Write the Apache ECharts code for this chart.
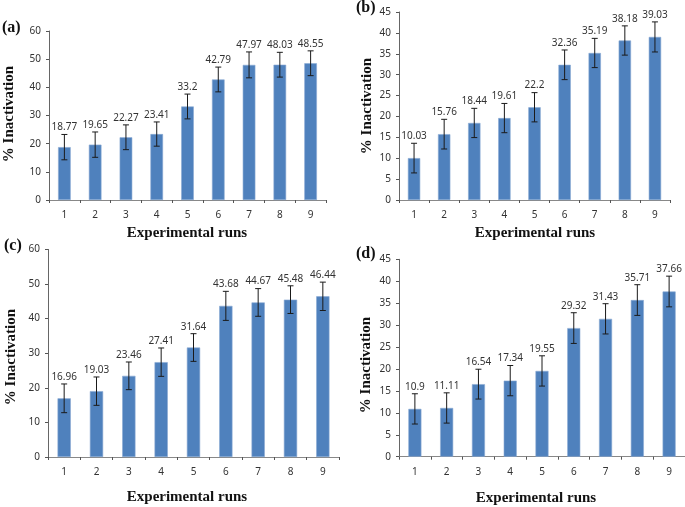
<!DOCTYPE html>
<html>
<head>
<meta charset="utf-8">
<script src="https://cdn.jsdelivr.net/npm/echarts@6/dist/echarts.min.js"></script>
<style>html,body{margin:0;padding:0;background:#fff}#c{width:685px;height:507px}</style>
</head>
<body>
<div id="c"></div>
<script>
const categories = ['1','2','3','4','5','6','7','8','9'];
const valuesA = [18.77,19.65,22.27,23.41,33.2,42.79,47.97,48.03,48.55];
const errA = [4.5,4.5,4.4,4.3,4.4,4.4,4.6,4.4,4.4];
const valuesB = [10.03,15.76,18.44,19.61,22.2,32.36,35.19,38.18,39.03];
const errB = [3.55,3.55,3.5,3.5,3.5,3.55,3.5,3.5,3.6];
const valuesC = [16.96,19.03,23.46,27.41,31.64,43.68,44.67,45.48,46.44];
const errC = [4.15,4.1,4.0,4.1,4.0,4.2,4.0,4.0,4.1];
const valuesD = [10.9,11.11,16.54,17.34,19.55,29.32,31.43,35.71,37.66];
const errD = [3.45,3.45,3.4,3.45,3.45,3.5,3.45,3.5,3.5];
const yTicksAC = {min:0, max:60, interval:10};
const yTicksBD = {min:0, max:45, interval:5};
const panelLabels = ['(a)','(b)','(c)','(d)'];
const xTitle = 'Experimental runs';
const yTitle = '% Inactivation';

const sans = 'Noto Sans, Liberation Sans, sans-serif';
const serif = 'Liberation Serif, DejaVu Serif, serif';
const barColor = '#4F81BD';

const grids = [
  {left:49, top:31, width:277, height:169},
  {left:399, top:12, width:271, height:188},
  {left:48, top:249.4, width:291, height:207.6},
  {left:399, top:259.3, width:286, height:197.4}
];
const panels = [
  {v:valuesA, e:errA, y:yTicksAC},
  {v:valuesB, e:errB, y:yTicksBD},
  {v:valuesC, e:errC, y:yTicksAC},
  {v:valuesD, e:errD, y:yTicksBD}
];

const xAxes = [], yAxes = [], series = [];
panels.forEach((p, i) => {
  xAxes.push({
    type:'category', gridIndex:i, data:categories,
    axisLine:{lineStyle:{color:'#888', width:1}},
    axisTick:{show:true, length:3, lineStyle:{color:'#555'}},
    axisLabel:{color:'#333', fontSize:10, fontFamily:sans, margin:10}
  });
  yAxes.push({
    type:'value', gridIndex:i, min:p.y.min, max:p.y.max, interval:p.y.interval,
    splitLine:{show:false},
    axisLine:{show:true, lineStyle:{color:'#666', width:1}},
    axisTick:{show:true, length:3, lineStyle:{color:'#555'}},
    axisLabel:{color:'#333', fontSize:10, fontFamily:sans, margin:8}
  });
  series.push({
    type:'bar', xAxisIndex:i, yAxisIndex:i, data:p.v, barWidth:'41%',
    itemStyle:{color:barColor, borderColor:'#8aaad4', borderWidth:0.6},
    silent:true
  });
  series.push({
    type:'custom', xAxisIndex:i, yAxisIndex:i,
    data:p.v.map((v, k) => [k, v, p.e[k]]),
    encode:{x:0, y:1},
    z:10,
    renderItem:function(params, api){
      const v = api.value(1), e = api.value(2);
      const t = api.coord([api.value(0), v + e]);
      const b = api.coord([api.value(0), v - e]);
      const cap = 3;
      const st = {stroke:'#1a1a1a', lineWidth:1};
      return {type:'group', children:[
        {type:'line', shape:{x1:t[0], y1:t[1], x2:b[0], y2:b[1]}, style:st},
        {type:'line', shape:{x1:t[0]-cap, y1:t[1], x2:t[0]+cap, y2:t[1]}, style:st},
        {type:'line', shape:{x1:b[0]-cap, y1:b[1], x2:b[0]+cap, y2:b[1]}, style:st},
        {type:'text', x:t[0], y:t[1]-2, style:{text:String(v), align:'center', verticalAlign:'bottom', fontSize:10, fontFamily:sans, fill:'#333'}}
      ]};
    }
  });
});

const titleStyle = {font:'bold 15px ' + serif, fill:'#111', align:'center', verticalAlign:'middle'};
const graphics = [
  {type:'text', left:2, top:20, style:{text:panelLabels[0], font:'bold 16px ' + serif, fill:'#111'}},
  {type:'text', left:356, top:0, style:{text:panelLabels[1], font:'bold 16px ' + serif, fill:'#111'}},
  {type:'text', left:4, top:238, style:{text:panelLabels[2], font:'bold 16px ' + serif, fill:'#111'}},
  {type:'text', left:356, top:246, style:{text:panelLabels[3], font:'bold 16px ' + serif, fill:'#111'}},
  {type:'text', x:187, y:233, style:Object.assign({text:xTitle}, titleStyle)},
  {type:'text', x:535, y:233, style:Object.assign({text:xTitle}, titleStyle)},
  {type:'text', x:187, y:497, style:Object.assign({text:xTitle}, titleStyle)},
  {type:'text', x:536, y:498, style:Object.assign({text:xTitle}, titleStyle)},
  {type:'text', x:9, y:114, rotation:Math.PI/2, style:Object.assign({text:yTitle}, titleStyle)},
  {type:'text', x:367, y:106, rotation:Math.PI/2, style:Object.assign({text:yTitle}, titleStyle)},
  {type:'text', x:11, y:357, rotation:Math.PI/2, style:Object.assign({text:yTitle}, titleStyle)},
  {type:'text', x:366, y:365, rotation:Math.PI/2, style:Object.assign({text:yTitle}, titleStyle)}
];

const chart = echarts.init(document.getElementById('c'), null, {renderer:'canvas'});
chart.setOption({
  animation:false,
  backgroundColor:'#fff',
  grid:grids,
  xAxis:xAxes,
  yAxis:yAxes,
  series:series,
  graphic:graphics
});
</script>
</body>
</html>
